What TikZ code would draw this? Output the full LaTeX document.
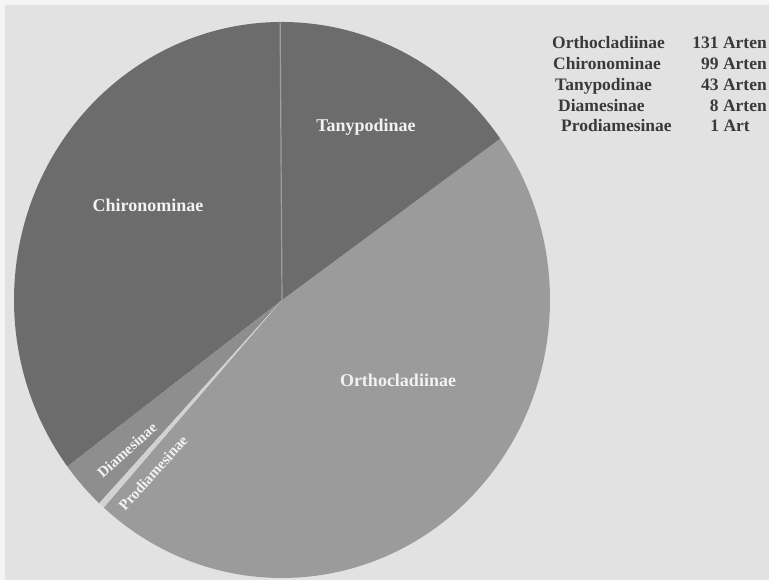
\documentclass[tikz,border=0pt]{standalone}
\usepackage{fontspec}
\setmainfont{Liberation Serif}
\usepackage{tikz}
\usetikzlibrary{positioning}
\definecolor{paper}{HTML}{F4F4F4}
\definecolor{bggray}{HTML}{E2E2E2}
\definecolor{darkslice}{HTML}{6C6C6C}
\definecolor{midslice}{HTML}{9B9B9B}
\definecolor{diaslice}{HTML}{8E8E8E}
\definecolor{prodslice}{HTML}{D2D2D2}
\definecolor{legendink}{HTML}{3A3A3A}
\tikzset{x = 1pt, y = 1pt,
  slicelabel/.style = {text = white!95!black, font = \fontsize{18}{21}\selectfont\bfseries, inner sep = 0pt},
  smalllabel/.style = {slicelabel, font = \fontsize{15}{18}\selectfont\bfseries},
  legendname/.style = {text = legendink, font = \fontsize{17.5}{20}\selectfont\bfseries, anchor = base west, inner sep = 0pt},
  legendcount/.style = {legendname, anchor = base east}}

\begin{document}
\begin{tikzpicture}
    \useasboundingbox (0,0) rectangle (769,580);
    \fill [paper] (0,0) rectangle (769,580);
    \fill [bggray] (5,0) rectangle (769,575);
    % slices
    \begin{scope}[shift = {(282,280)}]
      \fill [midslice] (0,0) -- (228.3:268 and 278) arc [start angle = 228.3, end angle = 395.5, x radius = 268, y radius = 278] -- cycle;
      \fill [darkslice] (0,0) -- (35.5:268 and 278) arc [start angle = 35.5, end angle = 216.8, x radius = 268, y radius = 278] -- cycle;
      \fill [diaslice] (0,0) -- (216.8:268 and 278) arc [start angle = 216.8, end angle = 227.0, x radius = 268, y radius = 278] -- cycle;
      \fill [prodslice] (0,0) -- (227.0:268 and 278) arc [start angle = 227.0, end angle = 228.3, x radius = 268, y radius = 278] -- cycle;
      \draw [gray!75, line width = 1.2pt] (0,0) -- (90.4:268 and 278);
    \end{scope}
    % labels in the pie
    \node [slicelabel] (tany) at (366,453) {Tanypodinae};
    \node [slicelabel] (chiro) at (148,375) {Chironominae};
    \node [slicelabel] (ortho) at (398,200) {Orthocladiinae};
    \node [smalllabel, rotate = 42] (dia) at (127,130) {Diamesinae};
    \node [smalllabel, rotate = 48] (prodia) at (153,107) {Prodiamesinae};
    % legend
    \node [legendname] (l1) at (552,531) {Orthocladiinae};
    \node [legendname] (l2) at (553,510) {Chironominae};
    \node [legendname] (l3) at (555,489) {Tanypodinae};
    \node [legendname] (l4) at (558,468) {Diamesinae};
    \node [legendname] (l5) at (561,448) {Prodiamesinae};
    \node [legendcount] (n1) at (767,531) {131 Arten};
    \node [legendcount] (n2) at (767,510) {99 Arten};
    \node [legendcount] (n3) at (767,489) {43 Arten};
    \node [legendcount] (n4) at (767,468) {8 Arten};
    \node [legendcount] (n5) at (750,448) {1 Art};
\end{tikzpicture}
\end{document}
